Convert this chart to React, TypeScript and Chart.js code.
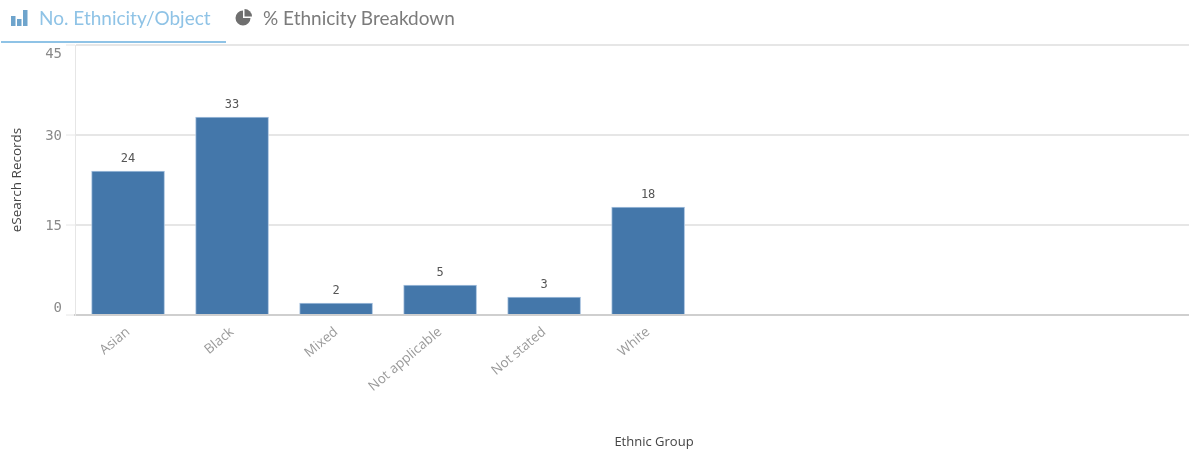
import React, { useEffect, useRef } from "react";
import { Chart, registerables } from "chart.js";

Chart.register(...registerables);

const categories = ["Asian", "Black", "Mixed", "Not applicable", "Not stated", "White"];
const records = [24, 33, 2, 5, 3, 18];
const yTicks = [0, 15, 30, 45];
const yTickNudge = [-7, 1, 1, 9];
const xAxisTitle = "Ethnic Group";
const yAxisTitle = "eSearch Records";
const tabLabels = ["No. Ethnicity/Object", "% Ethnicity Breakdown"];

const monoFont = '"DejaVu Sans Mono", monospace';

// Value labels above the bars, y tick labels pulled inside the axis range, and the x title.
const annotations = {
  id: "annotations",
  afterDatasetsDraw(chart: any) {
    const { ctx, scales } = chart;
    const x = scales.x;
    const y = scales.y;
    ctx.save();
    ctx.textBaseline = "middle";

    ctx.fillStyle = "#555555";
    ctx.textAlign = "center";
    ctx.font = `12px ${monoFont}`;
    records.forEach((v, i) => {
      ctx.fillText(String(v), x.getPixelForValue(i), y.getPixelForValue(v) - 12);
    });

    ctx.fillStyle = "#8a8a8a";
    ctx.textAlign = "right";
    ctx.font = `14px ${monoFont}`;
    yTicks.forEach((v, i) => {
      ctx.fillText(String(v), 62, y.getPixelForValue(v) + yTickNudge[i]);
    });

    ctx.fillStyle = "#444444";
    ctx.textAlign = "center";
    ctx.font = '13px "Open Sans", sans-serif';
    ctx.fillText(xAxisTitle, 654, 442);
    ctx.restore();
  },
};

function ChartIcon({ color }: { color: string }) {
  return (
    <svg width="17" height="16" viewBox="0 0 17 16" style={{ display: "block" }}>
      <rect x="0" y="6" width="4.5" height="10" fill={color} />
      <rect x="6" y="9" width="4.5" height="7" fill={color} />
      <rect x="12" y="0" width="4.5" height="16" fill={color} />
    </svg>
  );
}

function PieIcon({ color }: { color: string }) {
  return (
    <svg width="17" height="17" viewBox="0 0 17 17" style={{ display: "block" }}>
      <path d="M9.5 0 A7.5 7.5 0 0 1 17 7.5 L9.5 7.5 Z" fill={color} />
      <path d="M8 1.5 A7.5 7.5 0 1 0 15.5 9 L8 9 Z" fill={color} />
    </svg>
  );
}

export default function App() {
  const canvasRef = useRef<HTMLCanvasElement>(null);

  useEffect(() => {
    document.body.style.margin = "0";
    const chart = new Chart(canvasRef.current as HTMLCanvasElement, {
      type: "bar",
      data: {
        datasets: [
          {
            data: records.map((v, i) => ({ x: i, y: v })),
            backgroundColor: "#4477aa",
            borderColor: "#a9c3df",
            borderWidth: 1,
            barThickness: 73,
          },
        ],
      },
      plugins: [annotations],
      options: {
        responsive: false,
        animation: false,
        layout: { padding: { top: 45, left: 0, right: 0, bottom: 0 } },
        plugins: { legend: { display: false }, tooltip: { enabled: false } },
        scales: {
          x: {
            type: "linear",
            offset: false,
            min: -0.51,
            max: 10.2,
            afterBuildTicks(scale: any) {
              scale.ticks = categories.map((_, i) => ({ value: i }));
            },
            afterFit(scale: any) {
              scale.height = 139;
            },
            grid: { display: false },
            border: { color: "#cfcfcf", width: 2 },
            ticks: {
              autoSkip: false,
              minRotation: 40,
              maxRotation: 40,
              padding: 1,
              color: "#9a9a9a",
              font: { family: '"Open Sans", sans-serif', size: 13.5 },
              callback: (value: any) => categories[value] ?? "",
            },
          },
          y: {
            min: 0,
            max: 45,
            afterBuildTicks(scale: any) {
              scale.ticks = yTicks.map((value) => ({ value }));
            },
            afterFit(scale: any) {
              scale.width = 75;
            },
            grid: { color: "#e6e6e6", lineWidth: 2, tickLength: 9, tickColor: "#e6e6e6", tickWidth: 1 },
            border: { color: "#e6e6e6", width: 1 },
            ticks: { display: false },
            title: {
              display: true,
              text: yAxisTitle,
              color: "#444444",
              padding: { top: 9, bottom: 0 },
              font: { family: '"Open Sans", sans-serif', size: 13.5 },
            },
          },
        },
      },
    } as any);
    return () => chart.destroy();
  }, []);

  const tabFont = '"Lato", sans-serif';
  return (
    <div style={{ position: "relative", width: 1189, height: 454, background: "#ffffff", overflow: "hidden" }}>
      <canvas ref={canvasRef} width={1189} height={454} style={{ display: "block" }} />
      <div style={{ position: "absolute", left: 11, top: 6, display: "flex", alignItems: "center", gap: 11, color: "#8fc3e6", fontFamily: tabFont, fontSize: 19 }}>
        <ChartIcon color="#6ea4cc" />
        <span>{tabLabels[0]}</span>
      </div>
      <div style={{ position: "absolute", left: 235, top: 6, display: "flex", alignItems: "center", gap: 11, color: "#7b7b7b", fontFamily: tabFont, fontSize: 19 }}>
        <PieIcon color="#6f6f6f" />
        <span>{tabLabels[1]}</span>
      </div>
      <div style={{ position: "absolute", left: 1, top: 41, width: 225, height: 2, background: "#8fc3e6" }} />
    </div>
  );
}
